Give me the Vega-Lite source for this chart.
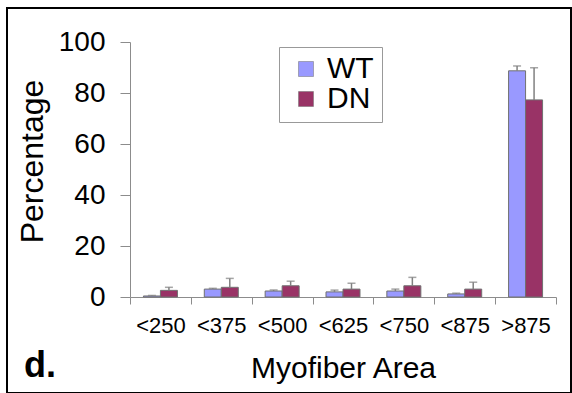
{
  "$schema": "https://vega.github.io/schema/vega-lite/v6.json",
  "autosize": {"type": "none"},
  "padding": {"left": 7, "top": 8, "right": 1, "bottom": 0},
  "width": 564,
  "height": 385,
  "background": "white",
  "title": {"text": "d.", "orient": "bottom", "anchor": "start", "frame": "group", "fontSize": 36, "fontWeight": "bold", "font": "Liberation Sans", "color": "black", "baseline": "alphabetic", "offset": 0, "dx": 17, "dy": -16},
  "config": {
    "view": {"stroke": "black", "strokeWidth": 2},
    "font": "Liberation Sans"
  },
  "data": {"values": [
    {"area": "<250", "genotype": "WT", "pct": 0.4, "upper": 0.6},
    {"area": "<250", "genotype": "DN", "pct": 2.6, "upper": 3.8},
    {"area": "<375", "genotype": "WT", "pct": 3.1, "upper": 3.4},
    {"area": "<375", "genotype": "DN", "pct": 3.8, "upper": 7.3},
    {"area": "<500", "genotype": "WT", "pct": 2.35, "upper": 2.75},
    {"area": "<500", "genotype": "DN", "pct": 4.4, "upper": 6.2},
    {"area": "<625", "genotype": "WT", "pct": 2.0, "upper": 2.7},
    {"area": "<625", "genotype": "DN", "pct": 3.1, "upper": 5.4},
    {"area": "<750", "genotype": "WT", "pct": 2.35, "upper": 3.1},
    {"area": "<750", "genotype": "DN", "pct": 4.4, "upper": 7.7},
    {"area": "<875", "genotype": "WT", "pct": 1.2, "upper": 1.5},
    {"area": "<875", "genotype": "DN", "pct": 3.1, "upper": 5.8},
    {"area": ">875", "genotype": "WT", "pct": 88.7, "upper": 90.6},
    {"area": ">875", "genotype": "DN", "pct": 77.3, "upper": 89.9}
  ]},
  "encoding": {
    "x": {
      "field": "area", "type": "nominal", "sort": null,
      "scale": {"range": [123, 549], "paddingInner": 0, "paddingOuter": 0},
      "axis": {
        "title": "Myofiber Area", "titleFontSize": 30, "titleFontWeight": "normal", "titleColor": "black",
        "titleBaseline": "alphabetic", "titleY": 80,
        "labelAngle": 0, "labelFontSize": 22, "labelColor": "black", "labelPadding": 11,
        "tickBand": "extent", "tickSize": 7, "tickColor": "#8c8c8c", "domainColor": "#8c8c8c",
        "offset": -96, "grid": false
      }
    },
    "xOffset": {"field": "genotype", "type": "nominal", "sort": ["WT", "DN"], "scale": {"paddingInner": 0, "paddingOuter": 0.79}}
  },
  "layer": [
    {
      "mark": {"type": "bar", "stroke": "#707070", "strokeWidth": 1},
      "encoding": {
        "y": {
          "field": "pct", "type": "quantitative",
          "scale": {"domain": [0, 100], "range": [289, 34], "nice": false, "zero": false},
          "axis": {
            "title": "Percentage", "titleFontSize": 32, "titleFontWeight": "normal", "titleColor": "black",
            "titleX": -81, "titleY": 153, "titleAngle": -90, "titleBaseline": "bottom", "titleAlign": "center",
            "values": [0, 20, 40, 60, 80, 100], "labelFontSize": 28, "labelColor": "black", "labelPadding": 15,
            "tickSize": 10, "tickColor": "#8c8c8c", "domainColor": "#8c8c8c", "offset": -123, "grid": false
          }
        },
        "color": {
          "field": "genotype", "type": "nominal", "sort": ["WT", "DN"],
          "scale": {"domain": ["WT", "DN"], "range": ["#9999FF", "#993366"]},
          "legend": {
            "title": null, "orient": "none", "legendX": 272, "legendY": 39,
            "strokeColor": "#999999", "padding": 8, "symbolType": "square", "symbolSize": 225,
            "symbolStrokeColor": "#707070", "symbolStrokeWidth": 0.5, "symbolOffset": 4,
            "labelFontSize": 30, "labelColor": "black", "labelOffset": 6, "rowPadding": 0, "clipHeight": 28
          }
        }
      }
    },
    {
      "mark": {"type": "rule", "color": "#808080", "strokeWidth": 1.5},
      "encoding": {
        "y": {"field": "pct", "type": "quantitative"},
        "y2": {"field": "upper"}
      }
    },
    {
      "mark": {"type": "tick", "color": "#808080", "thickness": 1.5, "size": 8, "orient": "horizontal"},
      "encoding": {
        "y": {"field": "upper", "type": "quantitative"}
      }
    }
  ]
}
